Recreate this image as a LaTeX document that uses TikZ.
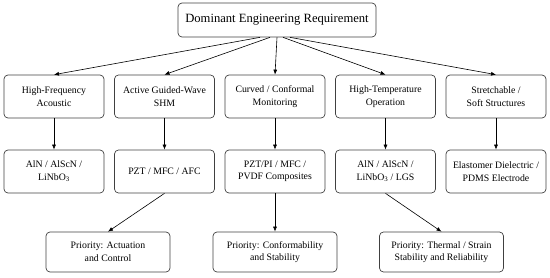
\documentclass[tikz,border=0pt]{standalone}
\usepackage{fontspec}
\setmainfont{Liberation Serif}
\usepackage{tikz}
\usetikzlibrary{arrows.meta,positioning}

\begin{document}
\begin{tikzpicture}[x=1pt,y=-1pt,
    box/.style={draw=black!75,rounded corners=4pt,line width=0.7pt,align=center,
      minimum width=100pt,minimum height=43pt,inner sep=2pt,font=\fontsize{9.8}{12.5}\selectfont},
    prio/.style={box,minimum width=124pt,minimum height=40pt},
    link/.style={-{Latex[length=5pt,width=4pt]},line width=0.6pt}]
  \useasboundingbox (0,0) rectangle (550,277);
  % top level
  \node[box,minimum width=198pt,minimum height=34pt,font=\fontsize{12.6}{15}\selectfont] (top) at (277,20)
    {Dominant Engineering Requirement};
  % requirement row
  \node[box] (hf) at (54,96.5) {High-Frequency\\Acoustic};
  \node[box] (gw) at (164.5,96.5) {Active Guided-Wave\\SHM};
  \node[box] (cm) at (275,96.5) {Curved / Conformal\\Monitoring};
  \node[box] (ht) at (385.5,96.5) {High-Temperature\\Operation};
  \node[box] (ss) at (496,96.5) {Stretchable /\\Soft Structures};
  % material row
  \node[box] (hfm) at (54,171.5) {AlN / AlScN /\\LiNbO\textsubscript{3}};
  \node[box] (gwm) at (164.5,171.5) {PZT / MFC / AFC};
  \node[box] (cmm) at (275,171.5) {PZT/PI / MFC /\\PVDF Composites};
  \node[box] (htm) at (385.5,171.5) {AlN / AlScN /\\LiNbO\textsubscript{3} / LGS};
  \node[box] (ssm) at (496,171.5) {Elastomer Dielectric /\\PDMS Electrode};
  % priority row
  \node[prio] (pa) at (108,252) {Priority: Actuation\\and Control};
  \node[prio] (pc) at (275,252) {Priority: Conformability\\and Stability};
  \node[prio] (pt) at (441.5,252) {Priority: Thermal / Strain\\Stability and Reliability};

  \draw[link] ([xshift=-17pt]top.south) -- (hf.north);
  \draw[link] ([xshift=-7pt]top.south) -- (gw.north);
  \draw[link] (top.south) -- (cm.north);
  \draw[link] ([xshift=6pt]top.south) -- (ht.north);
  \draw[link] ([xshift=13pt]top.south) -- (ss.north);
  \foreach \a/\b in {hf/hfm,gw/gwm,cm/cmm,ht/htm,ss/ssm}
    \draw[link] (\a.south) -- (\b.north);
  \draw[link] (gwm.south) -- (pa.north);
  \draw[link] (cmm.south) -- (pc.north);
  \draw[link] (htm.south) -- (pt.north);
\end{tikzpicture}
\end{document}
